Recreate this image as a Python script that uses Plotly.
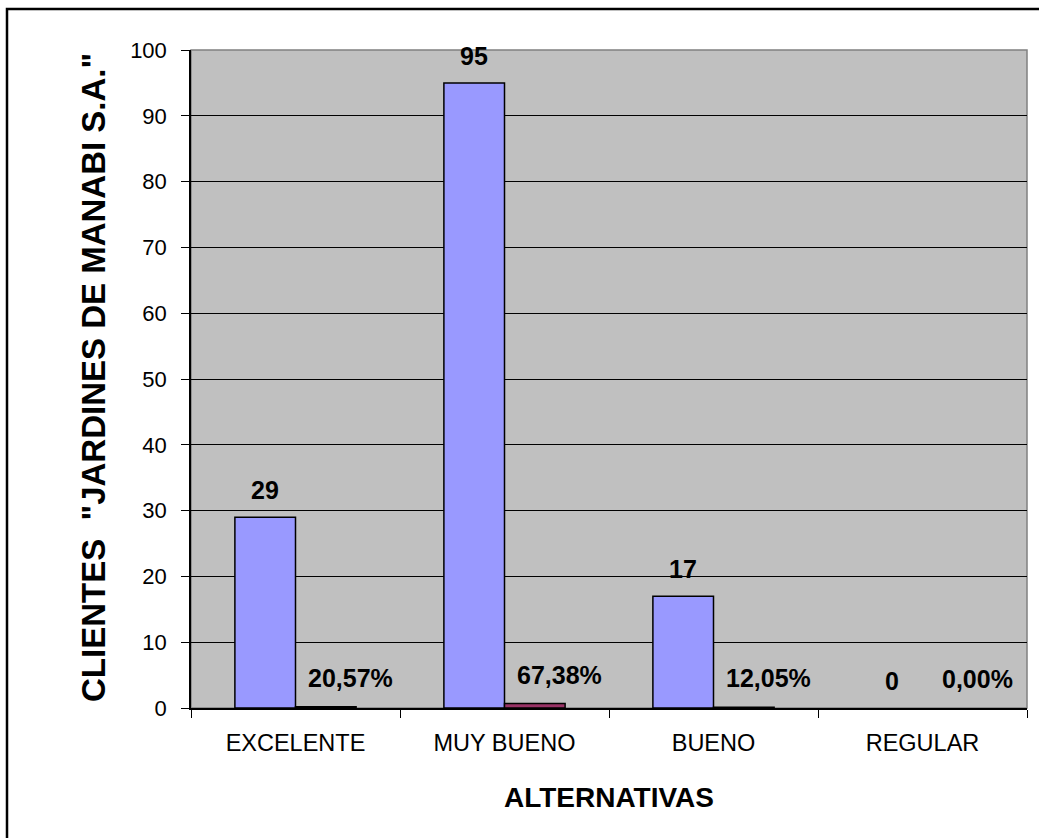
import plotly.graph_objects as go

categories = ["EXCELENTE", "MUY BUENO", "BUENO", "REGULAR"]
clientes = [29, 95, 17, 0]
porcentajes = [20.57, 67.38, 12.05, 0.00]

y_title = 'CLIENTES  "JARDINES DE MANABI S.A."'
x_title = "ALTERNATIVAS"

FONT = "Arial, 'Liberation Sans', sans-serif"
BARGAP = 0.42
W, H = 1039, 838
ML, MR, MT, MB = 191, 12, 50, 130
PW, PH = W - ML - MR, H - MT - MB

pct_values = [p / 100 for p in porcentajes]
pct_labels = [f"{p:.2f}".replace(".", ",") + "%" for p in porcentajes]

fig = go.Figure()
fig.add_trace(go.Bar(
    x=categories, y=clientes, name="Clientes",
    marker=dict(color="#9999FF",
                line=dict(color="black", width=[1.5 if v > 0 else 0 for v in clientes])),
))
fig.add_trace(go.Bar(
    x=categories, y=pct_values, name="Porcentaje",
    marker=dict(color="#993366",
                line=dict(color="black", width=[1.5 if v > 0 else 0 for v in pct_values])),
))

off = (1 - BARGAP) / 4
annotations = []
for i, (v, p, pl) in enumerate(zip(clientes, pct_values, pct_labels)):
    annotations.append(dict(
        x=i - off, y=v, xref="x", yref="y", text=f"<b>{v}</b>",
        showarrow=False, yanchor="middle", yshift=27,
        font=dict(family=FONT, size=25, color="black")))
    annotations.append(dict(
        x=i + off, y=p, xref="x", yref="y", text=f"<b>{pl}</b>",
        showarrow=False, yanchor="middle", yshift=29, xshift=25,
        font=dict(family=FONT, size=25, color="black")))

annotations.append(dict(
    x=(93 - ML) / PW, y=(MT + PH - 378) / PH, xref="paper", yref="paper", text=f"<b>{y_title}</b>",
    textangle=-90, showarrow=False, xanchor="center", yanchor="middle",
    font=dict(family=FONT, size=33, color="black")))
annotations.append(dict(
    x=0.5, y=(MT + PH - 797) / PH, xref="paper", yref="paper", text=f"<b>{x_title}</b>",
    showarrow=False, xanchor="center", yanchor="middle",
    font=dict(family=FONT, size=28, color="black")))

shapes = [
    # plot area border (grey)
    dict(type="rect", xref="paper", yref="paper", x0=0, x1=1, y0=0, y1=1,
         line=dict(color="#808080", width=1.5), layer="between"),
    # outer chart border
    dict(type="rect", xref="paper", yref="paper",
         x0=(7 - ML) / PW, x1=(W + 20 - ML) / PW,
         y0=(MT + PH - (H + 20)) / PH, y1=(MT + PH - 9) / PH,
         line=dict(color="black", width=2.5), layer="above"),
]

fig.update_layout(
    width=W, height=H,
    margin=dict(l=ML, r=MR, t=MT, b=MB, pad=0),
    paper_bgcolor="white", plot_bgcolor="#C0C0C0",
    barmode="group", bargap=BARGAP, bargroupgap=0,
    showlegend=False,
    font=dict(family=FONT, size=22, color="black"),
    annotations=annotations, shapes=shapes,
)
fig.update_yaxes(
    range=[0, 100], dtick=10, tick0=0,
    showgrid=True, gridcolor="black", gridwidth=1,
    showline=True, linecolor="black", linewidth=1.5,
    ticks="outside", ticklen=8, tickcolor="black", tickwidth=1,
    ticklabelstandoff=10, zeroline=False,
    tickfont=dict(family=FONT, size=22, color="black"),
)
fig.update_xaxes(
    showline=True, linecolor="black", linewidth=1.5,
    ticks="outside", tickson="boundaries", ticklen=8, tickcolor="black", tickwidth=1,
    ticklabelstandoff=13, showgrid=False,
    tickfont=dict(family=FONT, size=23.5, color="black"),
)

fig.write_html("out.html")
